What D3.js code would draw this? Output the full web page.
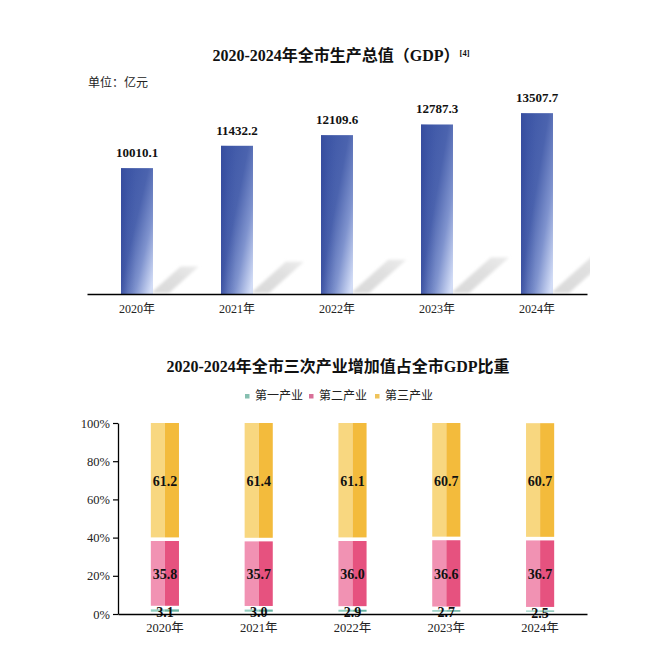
<!DOCTYPE html>
<html>
<head>
<meta charset="utf-8">
<script src="https://cdn.jsdelivr.net/npm/d3@7/dist/d3.min.js"></script>
<style>
  html, body { margin: 0; padding: 0; background: #fff; }
  svg { display: block; }
  .serif { font-family: "Liberation Serif", "Times New Roman", "Noto Sans CJK SC", serif; }
  .sans { font-family: "Noto Sans CJK SC", "Noto Sans", sans-serif; }
</style>
</head>
<body>
<svg id="chart" width="664" height="658"></svg>
<script>
// ---------- data ----------
const years = ["2020年", "2021年", "2022年", "2023年", "2024年"];
const gdp = [10010.1, 11432.2, 12109.6, 12787.3, 13507.7];
const primary = [3.1, 3.0, 2.9, 2.7, 2.5];
const secondary = [35.8, 35.7, 36.0, 36.6, 36.7];
const tertiary = [61.2, 61.4, 61.1, 60.7, 60.7];
const seriesNames = ["第一产业", "第二产业", "第三产业"];
const pctTicks = [0, 20, 40, 60, 80, 100];

const svg = d3.select("#chart");
const defs = svg.append("defs");

// ---------- top chart ----------
const x1 = d3.scaleBand().domain(years).range([87, 587]).paddingInner(0.68).paddingOuter(0.34);
const y1 = d3.scaleLinear().domain([2000, 16000]).range([294, 74]);

const g1 = defs.append("linearGradient").attr("id", "barGrad")
  .attr("x1", 0.1).attr("y1", 0.25).attr("x2", 0.9).attr("y2", 1);
[[0, "#4059a8"], [0.35, "#4b63ae"], [0.68, "#7f93ce"], [1, "#d2dcf6"]]
  .forEach(([o, c]) => g1.append("stop").attr("offset", o).attr("stop-color", c));
const g1b = defs.append("linearGradient").attr("id", "barEdge").attr("x1", 0).attr("x2", 1).attr("y1", 0).attr("y2", 0);
[[0, "rgba(45,65,150,0.5)"], [0.22, "rgba(45,65,150,0.12)"], [0.45, "rgba(45,65,150,0)"]]
  .forEach(([o, c]) => g1b.append("stop").attr("offset", o).attr("stop-color", c));
const gs = defs.append("linearGradient").attr("id", "shadowGrad").attr("x1", 0).attr("y1", 1).attr("x2", 1).attr("y2", 0);
[[0, "#d9d9d9"], [0.6, "#e0e0e0"], [1, "#ebebeb"]]
  .forEach(([o, c]) => gs.append("stop").attr("offset", o).attr("stop-color", c));
defs.append("filter").attr("id", "blur").attr("x", "-20%").attr("y", "-20%").attr("width", "140%").attr("height", "140%")
  .append("feGaussianBlur").attr("stdDeviation", 1.5);
defs.append("clipPath").attr("id", "clipTop").append("rect")
  .attr("x", 87).attr("y", 60).attr("width", 503).attr("height", 240);

// title
const t1 = svg.append("text").attr("class", "serif").attr("x", 341).attr("y", 61)
  .attr("text-anchor", "middle").attr("font-weight", "bold").attr("font-size", 16).attr("fill", "#111");
t1.append("tspan").text("2020-2024年全市生产总值（GDP）");
t1.append("tspan").attr("font-size", 8.5).attr("dy", -5).attr("dx", 0).text("[4]");

svg.append("text").attr("class", "sans").attr("x", 88).attr("y", 87)
  .attr("font-size", 12).attr("fill", "#222").text("单位：亿元");

// shadows
svg.append("g").attr("clip-path", "url(#clipTop)").selectAll("polygon").data(gdp).join("polygon")
  .attr("points", (d, i) => {
    const xr = x1(years[i]) + x1.bandwidth();
    const h = y1(2000) - y1(d);
    const dy = 0.21 * h, dx = 1.12 * dy;
    const base = 293;
    return [[xr - 2, base], [xr + 16, base], [xr + 16 + dx, base - dy], [xr - 2 + dx, base - dy]].map(p => p.join(",")).join(" ");
  })
  .attr("fill", "url(#shadowGrad)").attr("filter", "url(#blur)");

// bars
svg.append("g").selectAll("rect").data(gdp).join("rect")
  .attr("x", (d, i) => x1(years[i])).attr("y", d => y1(d))
  .attr("width", x1.bandwidth()).attr("height", d => y1(2000) - y1(d))
  .attr("fill", "url(#barGrad)");
svg.append("g").selectAll("rect").data(gdp).join("rect")
  .attr("x", (d, i) => x1(years[i])).attr("y", d => y1(d))
  .attr("width", x1.bandwidth()).attr("height", d => y1(2000) - y1(d))
  .attr("fill", "url(#barEdge)");

// value labels
svg.append("g").selectAll("text").data(gdp).join("text").attr("class", "serif")
  .attr("x", (d, i) => x1(years[i]) + x1.bandwidth() / 2).attr("y", d => y1(d) - 11)
  .attr("text-anchor", "middle").attr("font-weight", "bold").attr("font-size", 13).attr("fill", "#111")
  .text(d => d.toFixed(1));

// x axis
const ax1 = svg.append("g").attr("transform", "translate(0,294)")
  .call(d3.axisBottom(x1).tickSize(0).tickPadding(10));
ax1.select(".domain").attr("stroke", "#000").attr("stroke-width", 1.5);
ax1.selectAll("text").attr("class", "serif").attr("font-size", 12).attr("fill", "#222");

// ---------- bottom chart ----------
const x2 = d3.scaleBand().domain(years).range([118, 587]).paddingInner(0.7).paddingOuter(0.35);
const y2 = d3.scaleLinear().domain([0, 100]).range([614, 423]);

svg.append("text").attr("class", "serif").attr("x", 338).attr("y", 372)
  .attr("text-anchor", "middle").attr("font-weight", "bold").attr("font-size", 16).attr("fill", "#111")
  .text("2020-2024年全市三次产业增加值占全市GDP比重");

const colorsLight = ["#93cfc0", "#f192b3", "#f8d780"];
const colorsDark = ["#68b4a3", "#e6527f", "#f3bb3c"];
const legendColors = ["#86bfb0", "#d86f98", "#efc35a"];

// legend
const legX = [247, 311, 377];
const leg = svg.append("g");
seriesNames.forEach((n, i) => {
  leg.append("rect").attr("x", legX[i] - 2).attr("y", 394).attr("width", 4.5).attr("height", 4.5).attr("fill", legendColors[i]);
  leg.append("text").attr("class", "sans").attr("x", legX[i] + 8).attr("y", 400)
    .attr("font-size", 12).attr("fill", "#222").text(n);
});

const rows = years.map((y, i) => ({ year: y, p: primary[i], s: secondary[i], t: tertiary[i] }));
const stack = d3.stack().keys(["p", "s", "t"])(rows);

const bw = x2.bandwidth();
stack.forEach((layer, li) => {
  const g = svg.append("g");
  layer.forEach((seg, i) => {
    const x = x2(years[i]);
    const top = y2(Math.min(seg[1], 100)) + (li === 2 ? 0 : 1.3);
    const bot = y2(seg[0]) - 2.3;
    g.append("rect").attr("x", x).attr("y", top).attr("width", bw / 2).attr("height", Math.max(0, bot - top)).attr("fill", colorsLight[li]);
    g.append("rect").attr("x", x + bw / 2).attr("y", top).attr("width", bw / 2).attr("height", Math.max(0, bot - top)).attr("fill", colorsDark[li]);
  });
});
// labels
stack.forEach((layer, li) => {
  svg.append("g").selectAll("text").data(layer).join("text").attr("class", "serif")
    .attr("x", (d, i) => x2(years[i]) + bw / 2)
    .attr("y", d => (y2(d[0]) + y2(Math.min(d[1], 100))) / 2 + (li === 0 ? 1 : 0))
    .attr("dy", "0.35em")
    .attr("text-anchor", "middle").attr("font-weight", "bold").attr("font-size", 14).attr("fill", "#111")
    .text(d => (d[1] - d[0]).toFixed(1));
});

// axes
const ay2 = svg.append("g").attr("transform", "translate(118,0)")
  .call(d3.axisLeft(y2).tickValues(pctTicks).tickFormat(d => d + "%").tickSizeInner(5).tickSizeOuter(0).tickPadding(3));
ay2.select(".domain").attr("stroke", "#000").attr("stroke-width", 1.3);
ay2.selectAll(".tick line").attr("stroke", "#000").attr("stroke-width", 1.2);
ay2.selectAll("text").attr("class", "serif").attr("font-size", 12.5).attr("fill", "#222");

const ax2 = svg.append("g").attr("transform", "translate(0,614)")
  .call(d3.axisBottom(x2).tickSize(0).tickPadding(9));
ax2.select(".domain").attr("stroke", "#000").attr("stroke-width", 1.5);
ax2.selectAll("text").attr("class", "serif").attr("font-size", 12.5).attr("fill", "#222");
</script>
</body>
</html>
